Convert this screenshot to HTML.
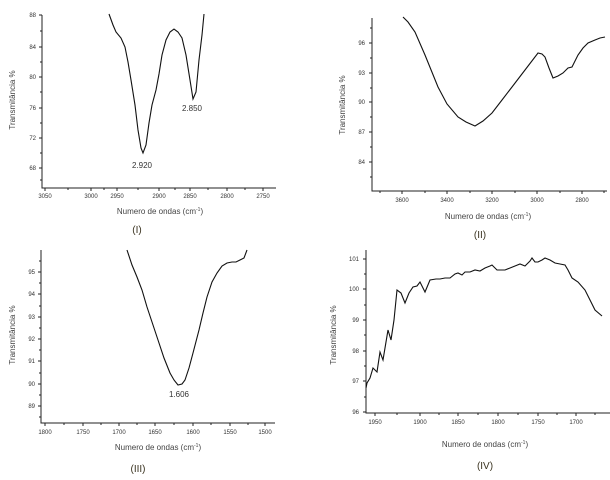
<!DOCTYPE html>
<html><head><style>
html,body{margin:0;padding:0;background:#fff}
svg{display:block}
text{font-family:"Liberation Sans",sans-serif;fill:#333}
.t{font-size:6px;fill:#444}
.ti{font-size:8px;fill:#444}
.lb{font-size:8px;fill:#333}
.p{font-size:10px;fill:#3a3320}
.ax{stroke:#222;stroke-width:1;fill:none}
.c{stroke:#111;stroke-width:1.1;fill:none}
</style></head><body>
<svg width="610" height="480" viewBox="0 0 610 480" xmlns="http://www.w3.org/2000/svg">
<!-- Panel I -->
<path class="ax" d="M42,15 V188 H276"/>
<g stroke="#222" stroke-width="1">
<path d="M39,15h3M39,47h3M39,77h3M39,108h3M39,138h3M39,168h3M40,31h2M40,62h2M40,92h2M40,123h2M40,153h2M40,180h2"/>
<path d="M45,188v3M91,188v3M117,188v3M159,188v3M190,188v3M227,188v3M263,188v3M68,188v2M104,188v2M138,188v2M175,188v2M208,188v2M245,188v2"/>
</g>
<g class="t" text-anchor="end"><text x="36" y="17">88</text><text x="36" y="49">84</text><text x="36" y="79">80</text><text x="36" y="110">76</text><text x="36" y="140">72</text><text x="36" y="170">68</text></g>
<g class="t" text-anchor="middle"><text x="45" y="198">3050</text><text x="91" y="198">3000</text><text x="117" y="198">2950</text><text x="159" y="198">2900</text><text x="190" y="198">2850</text><text x="227" y="198">2800</text><text x="263" y="198">2750</text></g>
<text class="ti" text-anchor="middle" x="160" y="214">Numero de ondas (cm<tspan font-size="5" dy="-3">-1</tspan><tspan dy="3">)</tspan></text>
<text class="ti" text-anchor="middle" transform="translate(15,100) rotate(-90)">Transmitância %</text>
<path class="c" d="M109,14 L113,25 L116,32 L121,38 L125,47 L128,62 L131,80 L135,105 L138,130 L141,148 L143,153 L146,145 L149,123 L152,105 L156,90 L159,74 L162,55 L166,40 L170,32 L174,29 L178,32 L182,38 L186,55 L190,80 L193,99 L196,92 L199,60 L202,35 L204,14"/>
<text class="lb" text-anchor="middle" x="142" y="168">2.920</text>
<text class="lb" text-anchor="middle" x="192" y="111">2.850</text>
<text class="p" text-anchor="middle" x="137" y="233">(I)</text>

<!-- Panel II -->
<path class="ax" d="M372,18 V191 H607"/>
<g stroke="#222" stroke-width="1">
<path d="M369,43h3M369,73h3M369,102h3M369,132h3M369,162h3M370,28h2M370,58h2M370,88h2M370,117h2M370,147h2M370,177h2"/>
<path d="M402,191v3M447,191v3M492,191v3M537,191v3M582,191v3M380,191v2M425,191v2M470,191v2M515,191v2M560,191v2M604,191v2"/>
</g>
<g class="t" text-anchor="end"><text x="365" y="45">96</text><text x="365" y="75">93</text><text x="365" y="104">90</text><text x="365" y="134">87</text><text x="365" y="164">84</text></g>
<g class="t" text-anchor="middle"><text x="402" y="202">3600</text><text x="447" y="202">3400</text><text x="492" y="202">3200</text><text x="537" y="202">3000</text><text x="582" y="202">2800</text></g>
<text class="ti" text-anchor="middle" x="488" y="219">Numero de ondas (cm<tspan font-size="5" dy="-3">-1</tspan><tspan dy="3">)</tspan></text>
<text class="ti" text-anchor="middle" transform="translate(345,105) rotate(-90)">Transmitância %</text>
<path class="c" d="M403,17 L408,22 L415,32 L425,55 L438,87 L447,104 L458,117 L466,122 L475,126 L483,121 L492,113 L502,100 L512,87 L525,70 L538,53 L542,54 L545,57 L549,68 L553,78 L558,76 L563,73 L568,68 L572,67 L578,55 L583,48 L588,43 L595,40 L600,38 L605,37"/>
<text class="p" text-anchor="middle" x="480" y="238">(II)</text>

<!-- Panel III -->
<path class="ax" d="M41,250 V423 H275"/>
<g stroke="#222" stroke-width="1">
<path d="M38,272h3M38,294h3M38,317h3M38,339h3M38,361h3M38,384h3M38,406h3M39,261h2M39,283h2M39,306h2M39,328h2M39,350h2M39,373h2M39,395h2M39,417h2"/>
<path d="M45,423v3M83,423v3M119,423v3M155,423v3M193,423v3M230,423v3M265,423v3M64,423v2M101,423v2M137,423v2M174,423v2M211,423v2M248,423v2"/>
</g>
<g class="t" text-anchor="end"><text x="35" y="274">95</text><text x="35" y="296">94</text><text x="35" y="319">93</text><text x="35" y="341">92</text><text x="35" y="363">91</text><text x="35" y="386">90</text><text x="35" y="408">89</text></g>
<g class="t" text-anchor="middle"><text x="45" y="434">1800</text><text x="83" y="434">1750</text><text x="119" y="434">1700</text><text x="155" y="434">1650</text><text x="193" y="434">1600</text><text x="230" y="434">1550</text><text x="265" y="434">1500</text></g>
<text class="ti" text-anchor="middle" x="158" y="450">Numero de ondas (cm<tspan font-size="5" dy="-3">-1</tspan><tspan dy="3">)</tspan></text>
<text class="ti" text-anchor="middle" transform="translate(15,335) rotate(-90)">Transmitância %</text>
<path class="c" d="M127,250 L132,265 L137,277 L142,290 L147,307 L152,322 L158,340 L164,358 L170,373 L174,380 L178,385 L182,384 L185,380 L189,368 L193,353 L199,330 L203,313 L207,297 L212,282 L217,273 L222,266 L227,263 L232,262 L236,262 L240,260 L244,258 L247,250"/>
<text class="lb" text-anchor="middle" x="179" y="397">1.606</text>
<text class="p" text-anchor="middle" x="138" y="472">(III)</text>

<!-- Panel IV -->
<path class="ax" d="M366,250 V413 H610"/>
<g stroke="#222" stroke-width="1">
<path d="M363,259h3M363,289h3M363,320h3M363,351h3M363,381h3M363,412h3M364,274h2M364,305h2M364,335h2M364,366h2M364,397h2"/>
<path d="M375,413v3M420,413v3M458,413v3M498,413v3M538,413v3M576,413v3M397,413v2M439,413v2M478,413v2M518,413v2M557,413v2M595,413v2"/>
</g>
<g class="t" text-anchor="end"><text x="359" y="261">101</text><text x="359" y="291">100</text><text x="359" y="322">99</text><text x="359" y="353">98</text><text x="359" y="383">97</text><text x="359" y="414">96</text></g>
<g class="t" text-anchor="middle"><text x="375" y="424">1950</text><text x="420" y="424">1900</text><text x="458" y="424">1850</text><text x="498" y="424">1800</text><text x="538" y="424">1750</text><text x="576" y="424">1700</text></g>
<text class="ti" text-anchor="middle" x="485" y="447">Numero de ondas (cm<tspan font-size="5" dy="-3">-1</tspan><tspan dy="3">)</tspan></text>
<text class="ti" text-anchor="middle" transform="translate(336,335) rotate(-90)">Transmitância %</text>
<path class="c" d="M366,388 L367,383 L370,378 L373,368 L377,372 L380,352 L383,360 L388,330 L391,340 L394,320 L397,290 L401,293 L405,303 L409,293 L413,287 L417,286 L420,282 L425,292 L430,280 L436,279 L440,279 L445,278 L450,278 L455,274 L458,273 L462,275 L465,272 L470,272 L475,270 L480,271 L485,268 L490,266 L492,265 L497,270 L505,270 L510,268 L515,266 L520,264 L525,266 L530,261 L532,258 L535,262 L538,262 L542,260 L545,258 L550,260 L555,263 L560,264 L565,265 L568,270 L572,278 L578,282 L585,290 L590,300 L595,310 L602,316"/>
<text class="p" text-anchor="middle" x="485" y="469">(IV)</text>
</svg>
</body></html>
